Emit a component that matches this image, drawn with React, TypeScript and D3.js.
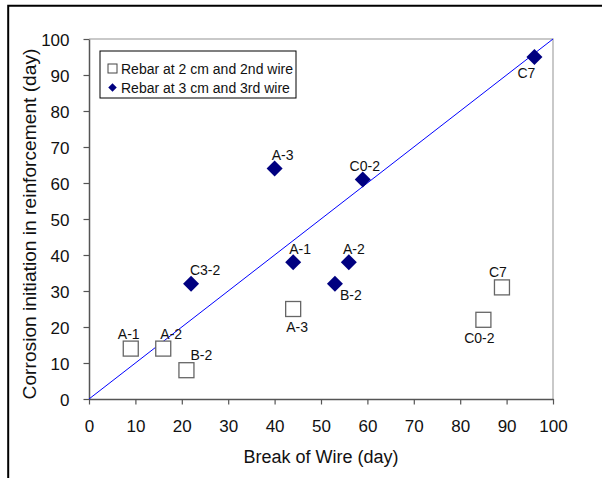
import { useRef, useEffect } from 'react';
import * as d3 from 'd3';

const X_TICKS = [0, 10, 20, 30, 40, 50, 60, 70, 80, 90, 100];
const Y_TICKS = [0, 10, 20, 30, 40, 50, 60, 70, 80, 90, 100];

// Rebar at 2 cm and 2nd wire (open squares)
const SQ_LABELS = ['A-1', 'A-2', 'B-2', 'A-3', 'C0-2', 'C7'];
const SQ_X = [9, 16, 21, 44, 85, 89];
const SQ_Y = [14, 14, 8, 25, 22, 31];

// Rebar at 3 cm and 3rd wire (diamonds)
const DM_LABELS = ['C3-2', 'A-3', 'A-1', 'C0-2', 'A-2', 'B-2', 'C7'];
const DM_X = [22, 40, 44, 59, 56, 53, 96];
const DM_Y = [32, 64, 38, 61, 38, 32, 95];

// label nudges (px) as placed in the original sheet
const SQ_NUDGE: [number, number][] = [[-2, -10], [8, -10], [15, -10], [4, 23], [-4, 23], [-4, -10]];
const DM_NUDGE: [number, number][] = [[14, -9], [8, -9], [7, -8], [2, -8], [5, -8], [16, 16], [-8, 21]];

const FONT = 'Arial, "Liberation Sans", sans-serif';

export default function App() {
  const svgRef = useRef<SVGSVGElement>(null);

  useEffect(() => {
    if (!svgRef.current) return;
    const svg = d3.select(svgRef.current);
    svg.selectAll('*').remove();

    const x = d3.scaleLinear().domain([0, 100]).range([89, 553]);
    const y = d3.scaleLinear().domain([0, 100]).range([399, 39]);

    // outer frame (top and left only)
    svg.append('path')
      .attr('d', 'M8.2,478 V5.8 H602')
      .attr('fill', 'none')
      .attr('stroke', '#000')
      .attr('stroke-width', 2);

    // plot border top / right
    svg.append('path')
      .attr('d', `M${x(0)},${y(100)} H${x(100)} V${y(0)}`)
      .attr('fill', 'none')
      .attr('stroke', '#b8b8b8')
      .attr('stroke-width', 1.5);

    // axes
    const xAxis = svg.append('g')
      .attr('transform', `translate(0,${y(0)})`)
      .call(d3.axisBottom(x).tickValues(X_TICKS).tickSize(5.5).tickSizeOuter(0).tickPadding(16));
    const yAxis = svg.append('g')
      .attr('transform', `translate(${x(0)},0)`)
      .call(d3.axisLeft(y).tickValues(Y_TICKS).tickSize(5.5).tickSizeOuter(0).tickPadding(14));

    [xAxis, yAxis].forEach((ax) => {
      ax.select('.domain').attr('stroke', '#555').attr('stroke-width', 1.5);
      ax.selectAll('.tick line').attr('stroke', '#555').attr('stroke-width', 1.2);
      ax.selectAll('.tick text')
        .attr('fill', '#111')
        .attr('font-size', 17)
        .attr('font-family', FONT);
    });
    xAxis.selectAll('.tick text').attr('dy', 0).attr('y', 33);
    yAxis.selectAll('.tick text').attr('dy', '0.36em');

    // 1:1 line
    svg.append('line')
      .attr('x1', x(0)).attr('y1', y(0))
      .attr('x2', x(100)).attr('y2', y(100))
      .attr('stroke', '#0000ff')
      .attr('stroke-width', 1);

    // squares
    const sqData = SQ_X.map((v, i) => ({ x: v, y: SQ_Y[i], label: SQ_LABELS[i], nudge: SQ_NUDGE[i] }));
    svg.append('g').selectAll('rect').data(sqData).join('rect')
      .attr('x', (d) => x(d.x) - 7.5)
      .attr('y', (d) => y(d.y) - 7.5)
      .attr('width', 15).attr('height', 15)
      .attr('fill', '#fff')
      .attr('stroke', '#666')
      .attr('stroke-width', 1.3);

    // diamonds
    const dmData = DM_X.map((v, i) => ({ x: v, y: DM_Y[i], label: DM_LABELS[i], nudge: DM_NUDGE[i] }));
    const diamond = d3.symbol().type(d3.symbolSquare).size(128);
    svg.append('g').selectAll('path').data(dmData).join('path')
      .attr('d', diamond)
      .attr('transform', (d) => `translate(${x(d.x)},${y(d.y)}) rotate(45)`)
      .attr('fill', '#000080');

    // point labels
    svg.append('g').selectAll('text').data([...sqData, ...dmData]).join('text')
      .attr('x', (d) => x(d.x) + d.nudge[0])
      .attr('y', (d) => y(d.y) + d.nudge[1])
      .attr('text-anchor', 'middle')
      .attr('font-size', 14)
      .attr('font-family', FONT)
      .attr('fill', '#111')
      .text((d) => d.label);

    // axis titles
    svg.append('text')
      .attr('x', (x(0) + x(100)) / 2)
      .attr('y', 463)
      .attr('text-anchor', 'middle')
      .attr('font-size', 18)
      .attr('font-family', FONT)
      .attr('fill', '#111')
      .text('Break of Wire (day)');

    svg.append('text')
      .attr('transform', 'translate(36,224) rotate(-90)')
      .attr('text-anchor', 'middle')
      .attr('font-size', 19.2)
      .attr('font-family', FONT)
      .attr('fill', '#111')
      .text('Corrosion initiation in reinforcement (day)');

    // legend
    const lg = svg.append('g');
    lg.append('rect')
      .attr('x', 100).attr('y', 51)
      .attr('width', 196).attr('height', 47)
      .attr('fill', '#fff')
      .attr('stroke', '#000')
      .attr('stroke-width', 1);
    lg.append('rect')
      .attr('x', 108).attr('y', 64)
      .attr('width', 9).attr('height', 9)
      .attr('fill', '#fff')
      .attr('stroke', '#444')
      .attr('stroke-width', 1);
    lg.append('path')
      .attr('d', d3.symbol().type(d3.symbolSquare).size(36))
      .attr('transform', 'translate(112.5,87.5) rotate(45)')
      .attr('fill', '#000080');
    lg.append('text')
      .attr('x', 121).attr('y', 74)
      .attr('font-size', 14)
      .attr('font-family', FONT)
      .attr('fill', '#111')
      .text('Rebar at 2 cm and 2nd wire');
    lg.append('text')
      .attr('x', 121).attr('y', 92.5)
      .attr('font-size', 14)
      .attr('font-family', FONT)
      .attr('fill', '#111')
      .text('Rebar at 3 cm and 3rd wire');
  }, []);

  return (
    <svg
      ref={svgRef}
      width={602}
      height={478}
      style={{ position: 'absolute', left: 0, top: 0, background: '#fff' }}
    />
  );
}
